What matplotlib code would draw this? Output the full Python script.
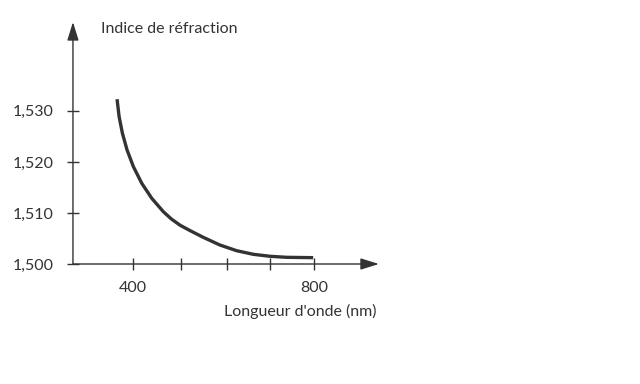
import matplotlib
matplotlib.use("Agg")
import matplotlib.pyplot as plt

# courbe (longueur d'onde en nm, indice)
wavelength = [364.6, 369.1, 376.4, 386.7, 400.7, 419.2, 441.3, 467.0, 485.0,
              504.0, 526.0, 555.0, 592.0, 629.0, 666.0, 703.0, 740.0, 798.5]
index = [1.53229, 1.52888, 1.52563, 1.52235, 1.51908, 1.51582, 1.51288, 1.51025,
         1.50880, 1.50760, 1.50655, 1.50524, 1.50373, 1.50261, 1.50190, 1.50151,
         1.50131, 1.50124]

x_ticks = [400, 506, 608, 703, 800]
x_labels = ["400", "", "", "", "800"]
y_ticks = [1.500, 1.510, 1.520, 1.530]
y_labels = ["1,500", "1,510", "1,520", "1,530"]

plt.rcParams['font.family'] = ['Lato', 'DejaVu Sans']
col = "#333333"

fig = plt.figure(figsize=(6.4, 3.84), dpi=100)
ax = fig.add_axes([0.114, 0.3125, 0.478, 0.630])

ax.plot(wavelength, index, color=col, lw=2.4, solid_capstyle="butt",
        solid_joinstyle="round")

ax.set_xlim(267, 944)
ax.set_ylim(1.500, 1.5474)

for s in ax.spines.values():
    s.set_visible(False)

# axes avec fleches
arrow = dict(arrowstyle="-|>,head_length=0.8,head_width=0.25", color=col,
             lw=1.0, mutation_scale=14, shrinkA=0, shrinkB=0)
ax.annotate("", xy=(1, 0), xytext=(0, 0), xycoords="axes fraction",
            arrowprops=arrow, annotation_clip=False)
ax.annotate("", xy=(0, 1), xytext=(0, 0), xycoords="axes fraction",
            arrowprops=arrow, annotation_clip=False)

ax.set_xticks(x_ticks)
ax.set_xticklabels(x_labels)
ax.set_yticks(y_ticks)
ax.set_yticklabels(y_labels)
ax.tick_params(direction="inout", length=8, width=1.0, color=col,
               labelcolor=col, labelsize=11.5)
ax.tick_params(axis="x", pad=8)
ax.tick_params(axis="y", pad=10)

fig.text(101 / 640, 1 - 29 / 384, "Indice de réfraction", color=col,
         fontsize=11.5, ha="left", va="center")
fig.text(376 / 640, 1 - 311 / 384, "Longueur d'onde (nm)", color=col,
         fontsize=11.5, ha="right", va="center")

fig.savefig("out.png", dpi=100)
